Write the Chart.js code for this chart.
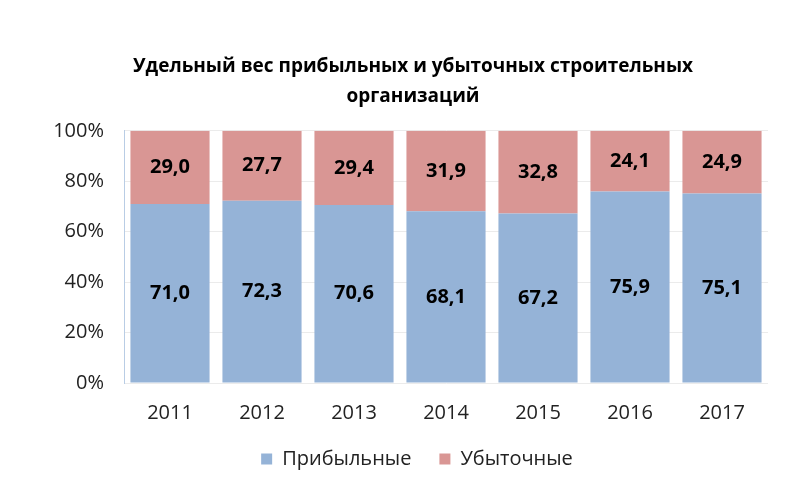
<!DOCTYPE html>
<html>
<head>
<meta charset="utf-8">
<script src="https://cdn.jsdelivr.net/npm/chart.js@4/dist/chart.umd.min.js"></script>
<style>
  html, body { margin: 0; padding: 0; background: #fff; }
  #wrap { width: 788px; height: 490px; }
</style>
</head>
<body>
<div id="wrap"><canvas id="chart"></canvas></div>
<script>
const years = ['2011', '2012', '2013', '2014', '2015', '2016', '2017'];
const profitable = [71.0, 72.3, 70.6, 68.1, 67.2, 75.9, 75.1];
const unprofitable = [29.0, 27.7, 29.4, 31.9, 32.8, 24.1, 24.9];
const yTicks = [0, 20, 40, 60, 80, 100];

const fontFamily = '"Open Sans", "Noto Sans", sans-serif';

// draws the value inside every bar segment
const barLabels = {
    id: 'barLabels',
    afterDatasetsDraw(chart) {
        const ctx = chart.ctx;
        ctx.save();
        ctx.font = 'bold 20px ' + fontFamily;
        ctx.fillStyle = '#000';
        ctx.textAlign = 'center';
        ctx.textBaseline = 'middle';
        chart.data.datasets.forEach(function(ds, i) {
            chart.getDatasetMeta(i).data.forEach(function(bar, j) {
                const mid = (bar.y + bar.base) / 2;
                ctx.fillText(ds.data[j].toFixed(1).replace('.', ','), bar.x, mid);
            });
        });
        ctx.restore();
    }
};

// the original centres title and legend a bit to the right of the canvas middle
const nudgeBoxes = {
    id: 'nudgeBoxes',
    afterLayout(chart) {
        if (chart.titleBlock) {
            chart.titleBlock.left += 9;
            chart.titleBlock.right += 9;
        }
        if (chart.legend) {
            chart.legend.left += 13;
            chart.legend.right += 13;
        }
    }
};

new Chart(document.getElementById('chart'), {
    type: 'bar',
    data: {
        labels: years,
        datasets: [
            {
                label: 'Прибыльные',
                data: profitable,
                backgroundColor: '#95B3D7',
                barPercentage: 0.86,
                categoryPercentage: 1
            },
            {
                label: 'Убыточные',
                data: unprofitable,
                backgroundColor: '#D99694',
                barPercentage: 0.86,
                categoryPercentage: 1
            }
        ]
    },
    options: {
        responsive: true,
        maintainAspectRatio: false,
        animation: false,
        layout: {
            padding: { left: 40, right: 20, top: 0, bottom: 11 }
        },
        plugins: {
            title: {
                display: true,
                text: ['Удельный вес прибыльных и убыточных строительных', 'организаций'],
                color: '#000',
                font: { family: fontFamily, size: 19, weight: 'bold', lineHeight: 1.6 },
                padding: { top: 51, bottom: 19 }
            },
            legend: {
                position: 'bottom',
                labels: {
                    color: '#222',
                    boxWidth: 11,
                    boxHeight: 11,
                    padding: 28,
                    font: { family: fontFamily, size: 20 }
                }
            },
            tooltip: { enabled: false }
        },
        scales: {
            x: {
                stacked: true,
                afterFit: function(scale) { scale.height = 38; },
                grid: { display: false, drawTicks: false },
                border: { display: false },
                ticks: {
                    color: '#222',
                    padding: 18,
                    font: { family: fontFamily, size: 20 }
                }
            },
            y: {
                stacked: true,
                min: 0,
                max: 100,
                afterFit: function(scale) { scale.width = 84; },
                afterBuildTicks: function(scale) {
                    scale.ticks = yTicks.map(function(v) { return { value: v }; });
                },
                grid: { color: '#ebebeb', drawTicks: false },
                border: { color: '#b9cde5', width: 1 },
                ticks: {
                    color: '#222',
                    padding: 20,
                    font: { family: fontFamily, size: 20 },
                    callback: function(value) { return value + '%'; }
                }
            }
        }
    },
    plugins: [barLabels, nudgeBoxes]
});
</script>
</body>
</html>
